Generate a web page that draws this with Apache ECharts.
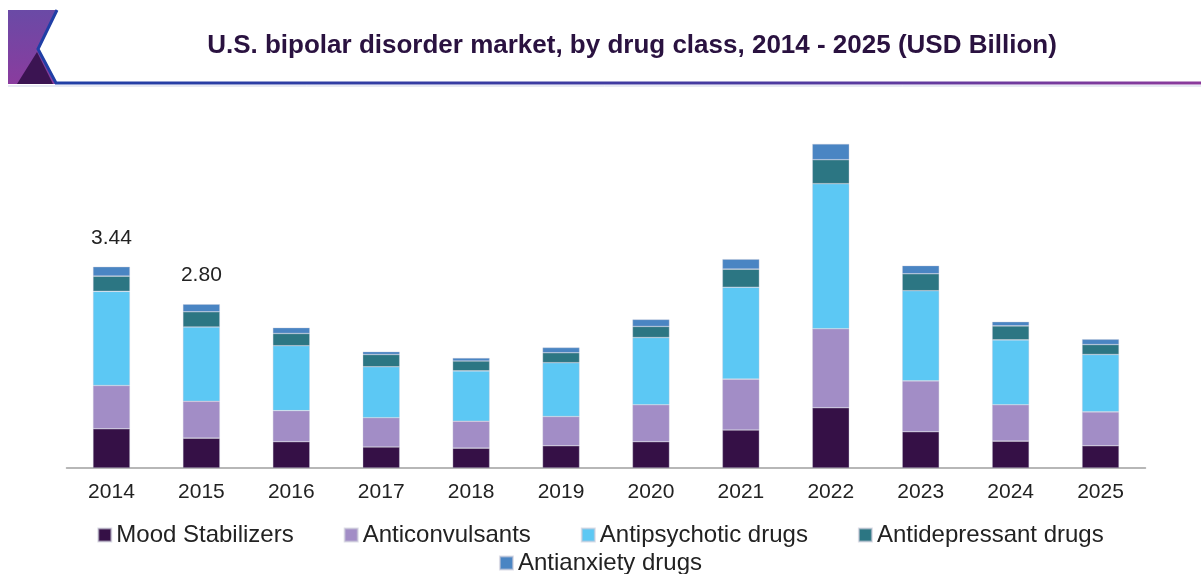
<!DOCTYPE html>
<html>
<head>
<meta charset="utf-8">
<script src="https://cdn.jsdelivr.net/npm/echarts@6/dist/echarts.min.js"></script>
<style>
  html, body { margin: 0; padding: 0; background: #fff; }
  #chart { width: 1201px; height: 574px; }
</style>
</head>
<body>
<div id="chart"></div>
<script>
// U.S. bipolar disorder market by drug class, USD billion
const years = ['2014', '2015', '2016', '2017', '2018', '2019', '2020', '2021', '2022', '2023', '2024', '2025'];
const moodStabilizers = [0.67, 0.51, 0.45, 0.36, 0.34, 0.38, 0.45, 0.65, 1.03, 0.62, 0.46, 0.38];
const anticonvulsants = [0.74, 0.63, 0.53, 0.50, 0.46, 0.50, 0.63, 0.87, 1.35, 0.87, 0.62, 0.58];
const antipsychotics  = [1.61, 1.27, 1.11, 0.87, 0.86, 0.92, 1.15, 1.57, 2.48, 1.54, 1.11, 0.98];
const antidepressants = [0.26, 0.26, 0.21, 0.21, 0.17, 0.17, 0.19, 0.31, 0.41, 0.29, 0.24, 0.17];
const antianxiety     = [0.16, 0.13, 0.10, 0.05, 0.05, 0.09, 0.12, 0.17, 0.27, 0.14, 0.07, 0.09];
// Totals printed above the bars (only the first two years are annotated)
const labelledYears = ['2014', '2015'];

const seriesNames = ['Mood Stabilizers', 'Anticonvulsants', 'Antipsychotic drugs', 'Antidepressant drugs', 'Antianxiety drugs'];
const seriesData = [moodStabilizers, anticonvulsants, antipsychotics, antidepressants, antianxiety];
const colors = ['#351046', '#a28dc6', '#5cc8f4', '#2c7683', '#4a85c3'];

const totals = years.map((_, i) => seriesData.reduce((s, arr) => s + arr[i], 0));

const chart = echarts.init(document.getElementById('chart'), null, { renderer: 'canvas' });

const FONT = 'Liberation Sans, Arial, sans-serif';

const series = seriesNames.map((name, k) => ({
  name: name,
  type: 'bar',
  stack: 'total',
  barWidth: 37,
  data: seriesData[k],
  itemStyle: { color: colors[k], borderColor: 'rgba(200,200,215,0.6)', borderWidth: 0.6 },
  label: k === seriesNames.length - 1 ? {
    show: true,
    position: 'top',
    distance: 18,
    fontFamily: FONT,
    fontSize: 21,
    color: '#222',
    formatter: p => labelledYears.includes(p.name) ? totals[p.dataIndex].toFixed(2) : ''
  } : { show: false }
}));

const legendText = { fontFamily: FONT, fontSize: 24, color: '#222' };

chart.setOption({
  animation: false,
  color: colors,
  graphic: [
    // header emblem
    { type: 'polygon', shape: { points: [[8, 10], [57, 10], [38, 49], [56, 84], [8, 84]] },
      style: { fill: new echarts.graphic.LinearGradient(0, 0, 0, 1, [
        { offset: 0, color: '#6a4aa6' }, { offset: 1, color: '#8a3c9e' }]) } },
    { type: 'polygon', shape: { points: [[17, 84], [37, 52], [53, 84]] },
      style: { fill: '#3b1452' } },
    { type: 'polyline', shape: { points: [[57, 10], [38, 49], [56, 83], [1201, 83]] },
      style: { stroke: new echarts.graphic.LinearGradient(0, 0, 1, 0, [
        { offset: 0, color: '#1f3fa6' }, { offset: 0.6, color: '#473aa0' }, { offset: 1, color: '#8c3a9c' }]),
        lineWidth: 3, fill: null } },
    { type: 'line', shape: { x1: 8, y1: 86, x2: 1201, y2: 86 },
      style: { stroke: '#cfd3e8', lineWidth: 1 } },
    { type: 'text', x: 632, y: 46,
      style: { text: 'U.S. bipolar disorder market, by drug class, 2014 - 2025 (USD Billion)',
        textAlign: 'center', textVerticalAlign: 'middle',
        fontFamily: FONT, fontWeight: 'bold', fontSize: 26, fill: '#2a1240' } }
  ],
  grid: { left: 66.5, right: 55.5, top: 117, bottom: 106 },
  xAxis: {
    type: 'category',
    data: years,
    axisTick: { show: false },
    axisLine: { lineStyle: { color: '#a0a0a0', width: 1.5 } },
    axisLabel: { fontFamily: FONT, fontSize: 21, color: '#222', margin: 14 }
  },
  yAxis: { type: 'value', min: 0, max: 6, show: false, splitLine: { show: false } },
  legend: [
    { data: seriesNames.slice(0, 4), top: 518, left: 'center', itemWidth: 13, itemHeight: 13, itemGap: 50,
      icon: 'rect', textStyle: legendText },
    { data: seriesNames.slice(4), top: 546, left: 'center', itemWidth: 13, itemHeight: 13,
      icon: 'rect', textStyle: legendText }
  ],
  series: series
});
</script>
</body>
</html>
